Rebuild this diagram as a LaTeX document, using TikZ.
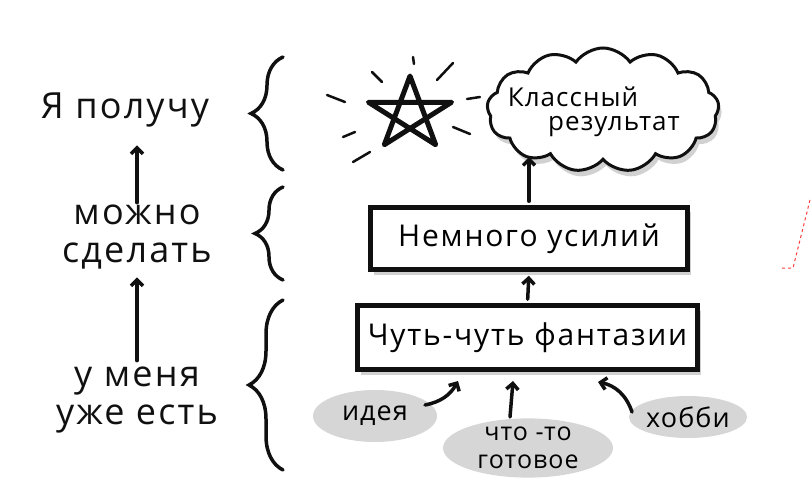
\documentclass[tikz,border=0pt]{standalone}
\usepackage{fontspec}
\setmainfont{Open Sans}
\usetikzlibrary{arrows.meta,positioning,calc,shapes.symbols,shapes.geometric,shadows,decorations.pathreplacing}
\definecolor{ink}{HTML}{101010}
\definecolor{blob}{HTML}{D6D6D6}
\definecolor{shade}{HTML}{BDBDBD}
\tikzset{
  >={Straight Barb[length=6pt,width=12pt]},
  hand/.style={font=\fontsize{36}{38}\selectfont\addfontfeature{LetterSpace=6},align=center,text=ink,inner sep=2pt},
  boxtxt/.style={font=\fontsize{30}{34}\selectfont\addfontfeature{LetterSpace=6}},
  bigbox/.style={draw=ink,line width=4.5pt,fill=white,boxtxt,
    drop shadow={shadow xshift=3pt,shadow yshift=-5pt,fill=shade,opacity=0.7}},
  thought/.style={cloud,cloud puffs=13,cloud puff arc=110,cloud ignores aspect,draw=ink,line width=3pt,fill=white,
    drop shadow={shadow xshift=3pt,shadow yshift=-6pt,fill=shade,opacity=0.7}},
  blobtxt/.style={ellipse,fill=blob,draw=none,align=center,
    font=\fontsize{27}{30}\selectfont\addfontfeature{LetterSpace=4},inner sep=0pt},
  arr/.style={->,draw=ink,line width=3.5pt,line cap=round},
  brc/.style={draw=ink,line width=3.5pt,line cap=round,decorate,decoration={brace,amplitude=32pt}},
  ray/.style={draw=ink,line width=2.5pt,line cap=round},
}
\begin{document}
\begin{tikzpicture}[x=1pt,y=-1pt]
\useasboundingbox (0,0) rectangle (811,497);
% left column
\node[hand] (poluchu) at (125,110) {Я получу};
\node[hand] (mozhno) at (137,237) {можно\\сделать};
\node[hand] (est) at (137,400) {у меня\\уже есть};
\draw[arr,shorten >=16pt] (mozhno.north) -- (mozhno.north |- poluchu.south);
\draw[arr,shorten >=6pt,shorten <=4pt] (est.north) -- (est.north |- mozhno.south);
% braces
\draw[brc] (283,170) -- (283,57);
\draw[brc,decoration={amplitude=28pt}] (283,280) -- (283,187);
\draw[brc,decoration={amplitude=34pt}] (283,470) -- (283,300);
% star
\draw[draw=ink,line width=5pt,line join=round,shift={(410,114)},xscale=1.15]
  (270:38) -- (54:38) -- (198:38) -- (342:38) -- (126:38) -- cycle;
\draw[ray] (413,57) -- (414,64);
\draw[ray] (437,80) -- (453,63);
\draw[ray] (372,72) -- (382,82);
\draw[ray] (327,95) -- (345,102);
\draw[ray] (467,99) -- (480,97);
\draw[ray] (343,137) -- (355,132);
\draw[ray] (453,127) -- (470,134);
\draw[ray] (353,162) -- (370,152);
% thought cloud
\node[thought,minimum width=232pt,minimum height=124pt] (result) at (603,110) {};
\node[font=\fontsize{26}{30}\selectfont\addfontfeature{LetterSpace=4}] (res1) at (573,97) {Классный};
\node[font=\fontsize{26}{30}\selectfont\addfontfeature{LetterSpace=4}] (res2) at (614,127) {результат};
% boxes
\node[bigbox,minimum width=317pt,minimum height=62pt] (effort) at (529,238.5) {Немного усилий};
\node[bigbox,minimum width=340pt,minimum height=64pt] (fantasy) at (527.5,337.5) {Чуть-чуть фантазии};
\coordinate (cloudin) at (529,157);
\draw[arr,shorten <=4pt] (effort.north) -- (cloudin);
\draw[arr,shorten <=4pt,shorten >=4pt] (fantasy.north) -- (effort.south);
% sources
\node[blobtxt,minimum width=124pt,minimum height=52pt] (idea) at (375,416) {идея};
\node[blobtxt,minimum width=170pt,minimum height=58pt,font=\fontsize{25}{28}\selectfont\addfontfeature{LetterSpace=4}] (ready) at (528,448) {что -то\\готовое};
\node[blobtxt,minimum width=110pt,minimum height=42pt] (hobby) at (688,417) {хобби};
\coordinate (out1) at (425,405);
\coordinate (out2) at (510,417);
\coordinate (out3) at (632,412);
\coordinate (in1) at (458,381);
\coordinate (in2) at (513,381);
\coordinate (in3) at (598,382);
\draw[arr] (out1) to[bend right=25] (in1);
\draw[arr] (out2) -- (in2);
\draw[arr] (out3) to[bend right=30] (in3);
% stray mark
\draw[red!75,dashed,line width=1pt] (810,200) -- (793,268) -- (782,268);
\end{tikzpicture}
\end{document}
